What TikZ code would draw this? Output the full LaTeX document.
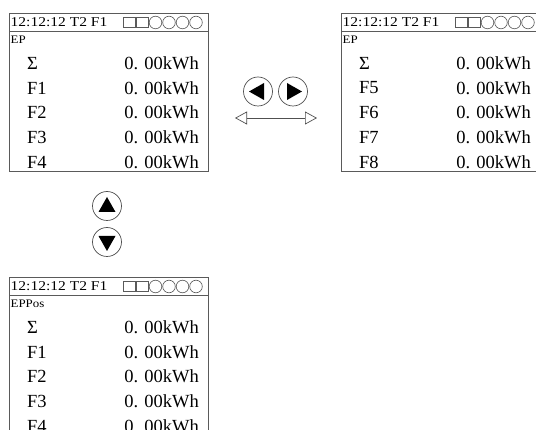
\documentclass[tikz,border=0pt]{standalone}
\usepackage{fontspec}
\setmainfont{Liberation Serif}
\usetikzlibrary{arrows.meta}
\definecolor{framegray}{RGB}{90,90,90}
\definecolor{btngray}{RGB}{80,80,80}
\newcommand\wideA[1]{\scalebox{1.12}[1]{#1}}
\newcommand\wideB[1]{\scalebox{1.15}[1]{#1}}
\tikzset{
  frame/.style={draw=framegray, line width=0.8pt},
  hdrtext/.style={anchor=west, inner sep=0pt, font=\fontsize{13.5}{13.5}\selectfont},
  eptext/.style={anchor=west, inner sep=0pt, font=\fontsize{11.5}{11.5}\selectfont},
  rowlabel/.style={anchor=west, inner sep=0pt, font=\fontsize{18.5}{18.5}\selectfont},
  rowvalue/.style={anchor=east, inner sep=0pt, font=\fontsize{18.5}{18.5}\selectfont},
  icon/.style={draw=framegray, line width=0.6pt},
  btn/.style={circle, draw=btngray, line width=0.7pt, minimum size=29pt, inner sep=0pt},
  tri/.style={fill=black, draw=none},
  dblarrow/.style={draw=btngray, line width=0.7pt, {Triangle[open, length=12pt, width=13pt]}-{Triangle[open, length=12pt, width=13pt]}}
}
% #1 name prefix, #2 x offset, #3 y offset, #4 bottom, #5 title, #6..#9 row labels F
\newcommand\screenbox[9]{%
  \begin{scope}[shift={(#2,#3)}]
    \draw[frame] (9,13) rectangle (208,#4);
    \draw[frame] (9,31) -- (208,31);
    \node[hdrtext] (#1hdr) at (10.5,22.5) {\wideB{12:12:12 T2 F1}};
    \draw[icon] (123,17.5) rectangle (135,27.5);
    \draw[icon] (136,17.5) rectangle (148,27.5);
    \foreach \cx in {155.5,169,182.5,196}{\draw[icon] (\cx,22.5) circle (6.3);}
    \node[eptext] (#1title) at (10.5,40) {\wideA{#5}};
    \node[rowlabel] (#1l0) at (27,63) {Σ};
    \node[rowlabel] (#1l1) at (27,88) {#6};
    \node[rowlabel] (#1l2) at (27,112.5) {#7};
    \node[rowlabel] (#1l3) at (27,137) {#8};
    \node[rowlabel] (#1l4) at (27,162) {#9};
    \foreach \i/\yy in {0/63,1/88,2/112.5,3/137,4/162}{
      \node[rowvalue] (#1v\i) at (199,\yy) {0. 00kWh};
    }
  \end{scope}}
\begin{document}
\begin{tikzpicture}[x=1pt,y=-1pt]
  \useasboundingbox (0,0) rectangle (536,430);
  \clip (0,0) rectangle (536,430);
  \fill[white] (0,0) rectangle (536,430);
  \screenbox{a}{0}{0}{171.5}{EP}{F1}{F2}{F3}{F4}
  \screenbox{b}{332}{0}{171.5}{EP}{F5}{F6}{F7}{F8}
  \screenbox{c}{0}{264}{500}{EPPos}{F1}{F2}{F3}{F4}
  % left/right buttons
  \node[btn] (left) at (258,91.5) {};
  \node[btn] (right) at (293,91.5) {};
  \fill[tri] ([xshift=-9pt]left.center) -- ([xshift=6pt,yshift=-8.5pt]left.center) -- ([xshift=6pt,yshift=8.5pt]left.center) -- cycle;
  \fill[tri] ([xshift=9pt]right.center) -- ([xshift=-6pt,yshift=-8.5pt]right.center) -- ([xshift=-6pt,yshift=8.5pt]right.center) -- cycle;
  \coordinate (arrL) at (235,118);
  \coordinate (arrR) at (317,118);
  \draw[dblarrow] (arrL) -- (arrR);
  % up/down buttons
  \node[btn] (up) at (107,206) {};
  \node[btn] (down) at (107,242) {};
  \fill[tri] ([yshift=9pt]up.center) -- ([xshift=-8.5pt,yshift=-6pt]up.center) -- ([xshift=8.5pt,yshift=-6pt]up.center) -- cycle;
  \fill[tri] ([yshift=-9pt]down.center) -- ([xshift=-8.5pt,yshift=6pt]down.center) -- ([xshift=8.5pt,yshift=6pt]down.center) -- cycle;
\end{tikzpicture}
\end{document}
